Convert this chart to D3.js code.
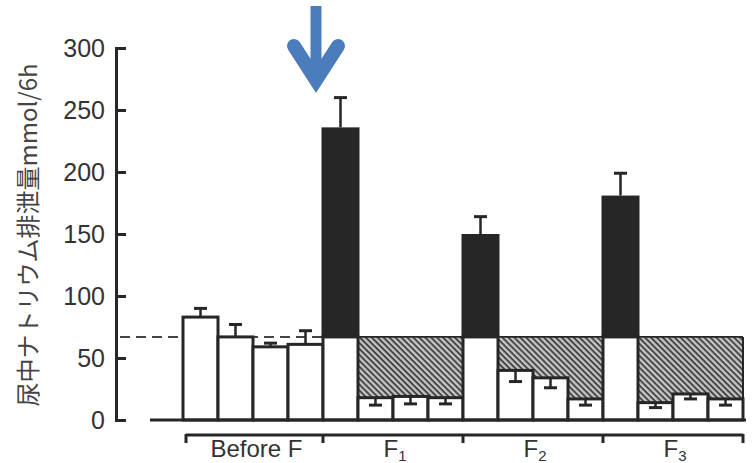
<!DOCTYPE html>
<html lang="ja">
<head>
    <meta charset="UTF-8">
    <title>chart</title>
    <script src="https://cdn.jsdelivr.net/npm/d3@7"></script>
    <style>
        *{
            padding: 0;
            margin: 0;
        }
        body{
            background: #fff;
        }
        svg{
            display: block;
        }
    </style>
</head>
<body>
    <script>
        // data
        const groups = ["Before F", "F1", "F2", "F3"];
        const beforeValues = [83, 67, 59, 61];
        const beforeErrTop = [90, 77, 62, 72];
        const controlLevel = 67;
        const peakValues = [236, 150, 181];
        const peakErrTop = [260, 164, 199];
        const afterValues = [[18, 19, 18], [40, 34, 17], [14, 21, 17]];
        const afterErrLow = [[12, 13, 13], [31, 26, 12], [10, 17, 12]];
        const yTicks = [0, 50, 100, 150, 200, 250, 300];

        let ink = "#262626";
        let textCol = "#333";
        let arrowCol = "#4b7dbd";

        // flatten into one row of bars
        let bars = [];
        beforeValues.forEach(function (v, i) {
            bars.push({kind: "before", group: 0, v: v, err: beforeErrTop[i]});
        });
        peakValues.forEach(function (v, g) {
            bars.push({kind: "peak", group: g + 1, v: v, err: peakErrTop[g]});
            afterValues[g].forEach(function (a, j) {
                bars.push({kind: "after", group: g + 1, v: a, err: afterErrLow[g][j]});
            });
        });
        bars.forEach(function (d, i) { d.i = i; });

        var svg = d3.select("body")
            .append("svg")
            .attr("width", 755)
            .attr("height", 463);

        let x = d3.scaleBand().domain(d3.range(bars.length)).range([183, 743]).padding(0);
        let y = d3.scaleLinear().domain([0, 300]).range([420, 48]);
        let bw = x.bandwidth();

        // hatch pattern
        let pat = svg.append("defs").append("pattern")
            .attr("id", "hatch")
            .attr("patternUnits", "userSpaceOnUse")
            .attr("width", 4.2)
            .attr("height", 4.2)
            .attr("patternTransform", "rotate(45)");
        pat.append("rect").attr("width", 4.2).attr("height", 4.2).attr("fill", "#c4c4c4");
        pat.append("line").attr("x1", 0).attr("x2", 4.2).attr("y1", 1).attr("y2", 1)
            .attr("stroke", "#3c3c3c").attr("stroke-width", 1.8);

        let after = bars.filter(function (d) { return d.kind === "after"; });
        svg.selectAll("rect.hatch").data(after).enter().append("rect")
            .attr("class", "hatch")
            .attr("x", function (d) { return x(d.i); })
            .attr("y", y(controlLevel))
            .attr("width", bw)
            .attr("height", function (d) { return y(d.v) - y(controlLevel); })
            .attr("fill", "url(#hatch)");

        // top and right border of the hatched area
        svg.append("line")
            .attr("x1", x(4)).attr("x2", x(bars.length - 1) + bw)
            .attr("y1", y(controlLevel)).attr("y2", y(controlLevel))
            .attr("stroke", ink).attr("stroke-width", 1.6);
        let last = bars[bars.length - 1];
        svg.append("line")
            .attr("x1", x(last.i) + bw).attr("x2", x(last.i) + bw)
            .attr("y1", y(controlLevel)).attr("y2", y(last.v))
            .attr("stroke", ink).attr("stroke-width", 2);

        // dashed control line
        svg.append("line")
            .attr("x1", 120).attr("x2", x(4))
            .attr("y1", y(controlLevel)).attr("y2", y(controlLevel))
            .attr("stroke", "#444").attr("stroke-width", 2)
            .attr("stroke-dasharray", "10,6");

        // white bars (for peak bars the white part goes up to control level)
        svg.selectAll("rect.white").data(bars).enter().append("rect")
            .attr("class", "white")
            .attr("x", function (d) { return x(d.i); })
            .attr("y", function (d) { return d.kind === "peak" ? y(controlLevel) : y(d.v); })
            .attr("width", bw)
            .attr("height", function (d) { return y(0) - (d.kind === "peak" ? y(controlLevel) : y(d.v)); })
            .attr("fill", "#fff")
            .attr("stroke", ink)
            .attr("stroke-width", 3);

        let peaks = bars.filter(function (d) { return d.kind === "peak"; });
        svg.selectAll("rect.black").data(peaks).enter().append("rect")
            .attr("class", "black")
            .attr("x", function (d) { return x(d.i) - 1.5; })
            .attr("y", function (d) { return y(d.v); })
            .attr("width", bw + 3)
            .attr("height", function (d) { return y(controlLevel) - y(d.v) + 1; })
            .attr("fill", ink);

        // error bars
        let eb = svg.selectAll("g.err").data(bars).enter().append("g").attr("class", "err");
        eb.append("line")
            .attr("x1", function (d) { return x(d.i) + bw / 2; })
            .attr("x2", function (d) { return x(d.i) + bw / 2; })
            .attr("y1", function (d) { return y(d.v); })
            .attr("y2", function (d) { return y(d.err); })
            .attr("stroke", ink).attr("stroke-width", 2.5);
        eb.append("line")
            .attr("x1", function (d) { return x(d.i) + bw / 2 - 6.5; })
            .attr("x2", function (d) { return x(d.i) + bw / 2 + 6.5; })
            .attr("y1", function (d) { return y(d.err); })
            .attr("y2", function (d) { return y(d.err); })
            .attr("stroke", ink).attr("stroke-width", 3);

        // baseline
        svg.append("line")
            .attr("x1", 150).attr("x2", 746)
            .attr("y1", y(0)).attr("y2", y(0))
            .attr("stroke", ink).attr("stroke-width", 3);

        // y axis
        let yAxis = svg.append("g")
            .attr("transform", "translate(116,0)")
            .call(d3.axisLeft(y).tickValues(yTicks).tickSizeInner(-10).tickSizeOuter(-10).tickPadding(11));
        yAxis.select(".domain").attr("stroke", ink).attr("stroke-width", 3);
        yAxis.selectAll(".tick line").attr("stroke", ink).attr("stroke-width", 3);
        yAxis.selectAll(".tick text")
            .attr("fill", textCol)
            .style("font-family", "'Liberation Sans', Arial, sans-serif")
            .style("font-size", "25px");

        svg.append("text")
            .attr("transform", "translate(37,235) rotate(-90)")
            .attr("text-anchor", "middle")
            .attr("fill", "#444")
            .style("font-family", "'Noto Sans CJK JP', sans-serif")
            .style("font-size", "24px")
            .text("尿中ナトリウム排泄量mmol/6h");

        // group bracket
        let groupRange = groups.map(function (g, k) {
            let idx = bars.filter(function (d) { return d.group === k; }).map(function (d) { return d.i; });
            return {name: g, x0: x(d3.min(idx)), x1: x(d3.max(idx)) + bw};
        });
        groupRange[0].x0 += 3;
        svg.append("line")
            .attr("x1", groupRange[0].x0).attr("x2", groupRange[3].x1)
            .attr("y1", 435).attr("y2", 435)
            .attr("stroke", ink).attr("stroke-width", 3);
        let tickXs = groupRange.map(function (g) { return g.x0; }).concat([groupRange[3].x1]);
        svg.selectAll("line.gtick").data(tickXs).enter().append("line")
            .attr("class", "gtick")
            .attr("x1", function (d) { return d; }).attr("x2", function (d) { return d; })
            .attr("y1", 434).attr("y2", 443)
            .attr("stroke", ink).attr("stroke-width", 3);

        let gl = svg.selectAll("text.glabel").data(groupRange).enter().append("text")
            .attr("class", "glabel")
            .attr("x", function (d) { return (d.x0 + d.x1) / 2 + 2; })
            .attr("y", 457)
            .attr("text-anchor", "middle")
            .attr("fill", textCol)
            .style("font-family", "'Liberation Sans', Arial, sans-serif")
            .style("font-size", "24px");
        gl.each(function (d) {
            let t = d3.select(this);
            if (d.name.charAt(0) === "F" && d.name.length === 2) {
                t.append("tspan").text("F");
                t.append("tspan").attr("dy", 4).style("font-size", "15px").text(d.name.charAt(1));
            } else {
                t.text(d.name);
            }
        });

        // blue arrow
        svg.append("line")
            .attr("x1", 316).attr("x2", 316)
            .attr("y1", 6).attr("y2", 80)
            .attr("stroke", arrowCol).attr("stroke-width", 11);
        svg.append("polyline")
            .attr("points", "294,46 316,80 338,46")
            .attr("fill", "none")
            .attr("stroke", arrowCol)
            .attr("stroke-width", 14)
            .attr("stroke-linecap", "round")
            .attr("stroke-linejoin", "miter");
    </script>
</body>
</html>
